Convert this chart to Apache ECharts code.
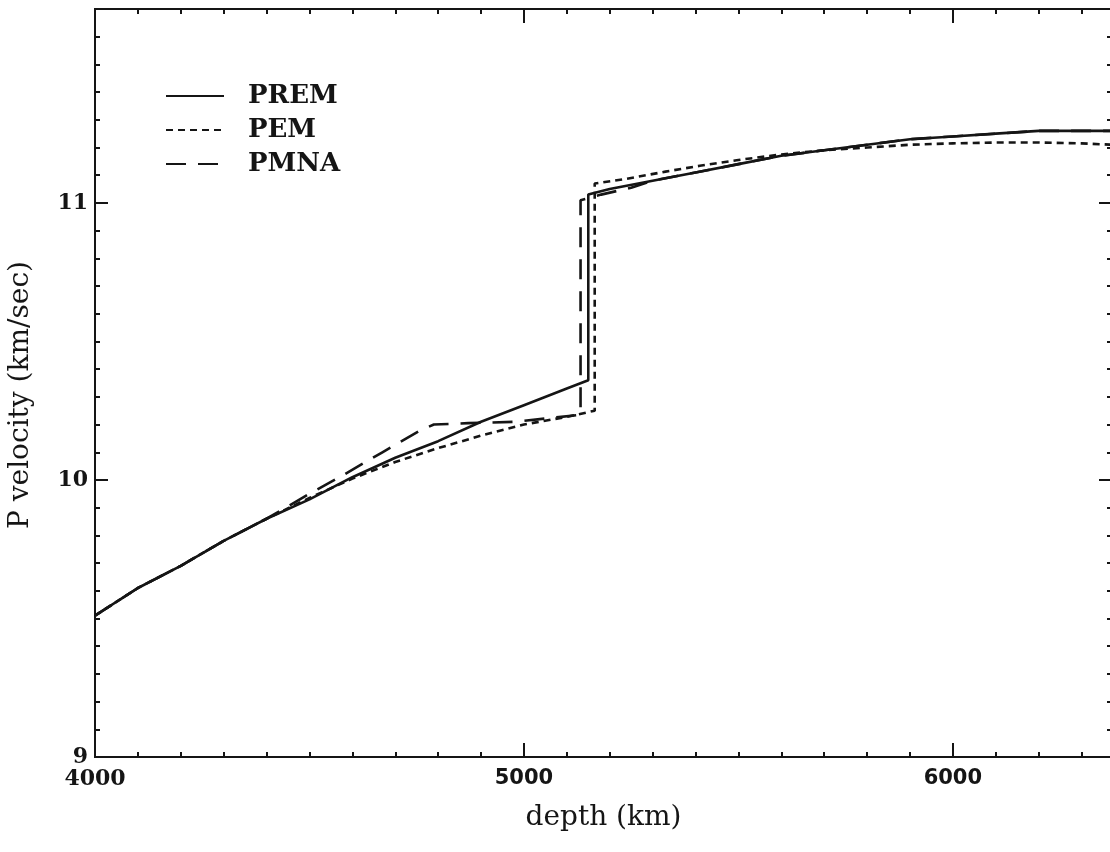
<!DOCTYPE html>
<html>
<head>
<meta charset="utf-8">
<script src="https://cdn.jsdelivr.net/npm/echarts@6/dist/echarts.min.js"></script>
<style>
  html, body { margin: 0; padding: 0; background: #fff; }
  #chart { width: 1110px; height: 852px; }
</style>
</head>
<body>
<div id="chart"></div>
<script>
// P-wave velocity (km/sec) against depth (km) through the outer and inner core
const premDepth = [4000, 4100, 4200, 4300, 4400, 4500, 4600, 4700, 4800, 4900, 5000, 5100, 5150,
                   5150, 5200, 5300, 5400, 5500, 5600, 5700, 5800, 5900, 6000, 6100, 6200, 6300, 6371];
const premVp    = [9.51, 9.61, 9.69, 9.78, 9.86, 9.93, 10.01, 10.08, 10.14, 10.21, 10.27, 10.33, 10.36,
                   11.03, 11.05, 11.08, 11.11, 11.14, 11.17, 11.19, 11.21, 11.23, 11.24, 11.25, 11.26, 11.26, 11.26];

const pemDepth = [4000, 4100, 4200, 4300, 4400, 4500, 4600, 4700, 4800, 4900, 5000, 5100, 5165,
                  5165, 5240, 5330, 5410, 5500, 5600, 5700, 5800, 5900, 6000, 6100, 6200, 6300, 6371];
const pemVp    = [9.51, 9.61, 9.69, 9.78, 9.86, 9.935, 10.005, 10.065, 10.115, 10.16, 10.20, 10.228, 10.25,
                  11.07, 11.087, 11.113, 11.134, 11.155, 11.175, 11.19, 11.20, 11.21, 11.215, 11.218, 11.218, 11.215, 11.21];

const pmnaDepth = [4000, 4100, 4200, 4300, 4400, 4500, 4570, 4670, 4760, 4790, 4870, 4980, 5070, 5132,
                   5132, 5180, 5250, 5300, 5400, 5500, 5600, 5700, 5800, 5900, 6000, 6100, 6200, 6300, 6371];
const pmnaVp    = [9.51, 9.61, 9.69, 9.78, 9.86, 9.95, 10.01, 10.10, 10.18, 10.20, 10.205, 10.21, 10.225, 10.235,
                   11.01, 11.03, 11.055, 11.08, 11.11, 11.14, 11.17, 11.19, 11.21, 11.23, 11.24, 11.25, 11.26, 11.26, 11.26];

const seriesNames = ['PREM', 'PEM', 'PMNA'];
const xTickLabels = [4000, 5000, 6000];
const yTickLabels = [9, 10, 11];

const depthMin = 4000, depthMax = 6371;
const vpMin = 9, vpMax = 11.7;

const ink = '#151515';
const serif = '"DejaVu Serif", "Liberation Serif", serif';
const sans = '"DejaVu Sans", "Liberation Sans", sans-serif';

function zip(xs, ys) { return xs.map((x, i) => [x, ys[i]]); }

// both grids share one rectangle: grid 0 carries major ticks, labels and data, grid 1 the minor ticks
const gridRect = { left: 95, top: 9, width: 1017, height: 748, containLabel: false, outerBoundsMode: 'none' };

function xAxisDef(grid, position, interval, tickLen, withLabels) {
  const ax = {
    type: 'value', gridIndex: grid, position: position,
    min: depthMin, max: depthMax, interval: interval,
    axisLine: { show: true, onZero: false, lineStyle: { color: ink, width: 2 } },
    axisTick: { show: true, inside: true, length: tickLen, lineStyle: { color: ink, width: 2 } },
    axisLabel: { show: false },
    splitLine: { show: false }
  };
  if (withLabels) {
    ax.axisLabel = {
      show: true, margin: 11, showMaxLabel: false,
      formatter: v => xTickLabels.indexOf(v) < 0 ? '' : (v === 4000 ? '{s|' + v + '}' : '{b|' + v + '}'),
      rich: {
        s: { fontFamily: serif, fontWeight: 'bold', fontSize: 22, color: ink },
        b: { fontFamily: sans, fontWeight: 'bold', fontSize: 21, color: ink }
      }
    };
    ax.name = 'depth (km)';
    ax.nameLocation = 'middle';
    ax.nameGap = 47;
    ax.nameTextStyle = { fontFamily: serif, fontSize: 28, color: ink };
  }
  return ax;
}

function yAxisDef(grid, position, interval, tickLen, withLabels) {
  const ax = {
    type: 'value', gridIndex: grid, position: position,
    min: vpMin, max: vpMax, interval: interval,
    axisLine: { show: true, onZero: false, lineStyle: { color: ink, width: 2 } },
    axisTick: { show: true, inside: true, length: tickLen, lineStyle: { color: ink, width: 2 } },
    axisLabel: { show: false },
    splitLine: { show: false }
  };
  if (withLabels) {
    ax.axisLabel = {
      show: true, margin: 7, showMaxLabel: false,
      formatter: v => yTickLabels.indexOf(v) < 0 ? '' : String(v),
      fontFamily: serif, fontWeight: 'bold', fontSize: 22, color: ink,
      padding: [10, 0, 0, 0]
    };
    ax.name = 'P velocity (km/sec)';
    ax.nameLocation = 'middle';
    ax.nameGap = 60;
    ax.nameTextStyle = { fontFamily: serif, fontSize: 28, color: ink, padding: [0, 24, 0, 0] };
  }
  return ax;
}

const chart = echarts.init(document.getElementById('chart'), null, { renderer: 'canvas' });

chart.setOption({
  backgroundColor: '#fff',
  animation: false,
  grid: [
    Object.assign({}, gridRect),
    Object.assign({}, gridRect)
  ],
  xAxis: [
    xAxisDef(0, 'bottom', 1000, 14, true),
    xAxisDef(0, 'top', 1000, 14, false),
    xAxisDef(1, 'bottom', 100, 5, false),
    xAxisDef(1, 'top', 100, 5, false)
  ],
  yAxis: [
    yAxisDef(0, 'left', 1, 13, true),
    yAxisDef(0, 'right', 1, 13, false),
    yAxisDef(1, 'left', 0.1, 5, false),
    yAxisDef(1, 'right', 0.1, 5, false)
  ],
  legend: {
    left: 160, top: 76,
    orient: 'vertical',
    itemWidth: 58, itemHeight: 14, itemGap: 4,
    data: seriesNames,
    itemStyle: { color: 'rgba(0,0,0,0)', borderWidth: 0, opacity: 0 },
    textStyle: {
      fontFamily: serif, fontWeight: 'bold', fontSize: 26, color: ink,
      lineHeight: 30, padding: [0, 0, 0, 19]
    }
  },
  series: [
    {
      name: seriesNames[0], type: 'line', xAxisIndex: 0, yAxisIndex: 0,
      data: zip(premDepth, premVp), symbol: 'none', z: 4,
      lineStyle: { color: ink, width: 2.6, type: 'solid' },
      itemStyle: { color: ink }
    },
    {
      name: seriesNames[1], type: 'line', xAxisIndex: 0, yAxisIndex: 0,
      data: zip(pemDepth, pemVp), symbol: 'none', z: 3,
      lineStyle: { color: ink, width: 2.6, type: [7, 5] },
      itemStyle: { color: ink }
    },
    {
      name: seriesNames[2], type: 'line', xAxisIndex: 0, yAxisIndex: 0,
      data: zip(pmnaDepth, pmnaVp), symbol: 'none', z: 3,
      lineStyle: { color: ink, width: 2.6, type: [20, 12] },
      itemStyle: { color: ink }
    }
  ]
});
</script>
</body>
</html>
